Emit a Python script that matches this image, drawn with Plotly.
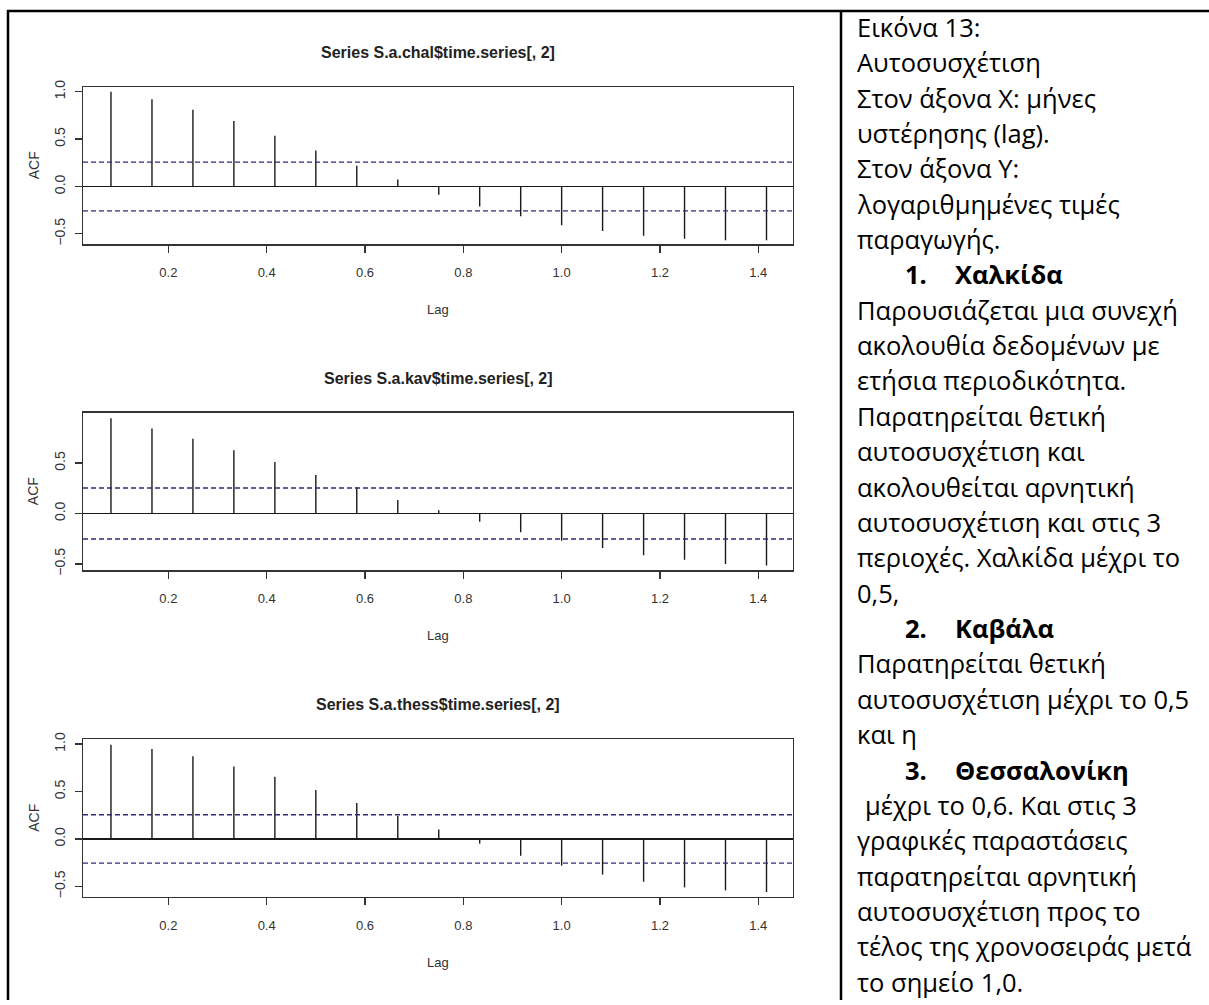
import plotly.graph_objects as go

W, H = 1209, 1005

# ---------------- data ----------------
lags = [0.0833, 0.1667, 0.25, 0.3333, 0.4167, 0.5, 0.5833, 0.6667, 0.75,
        0.8333, 0.9167, 1.0, 1.0833, 1.1667, 1.25, 1.3333, 1.4167]
acf_chal = [1.00, 0.92, 0.81, 0.69, 0.535, 0.38, 0.22, 0.073, -0.087,
            -0.21, -0.315, -0.41, -0.47, -0.52, -0.55, -0.567, -0.567]
acf_kav = [0.944, 0.843, 0.742, 0.627, 0.51, 0.382, 0.261, 0.134, 0.033,
           -0.082, -0.186, -0.27, -0.343, -0.415, -0.458, -0.50, -0.516]
acf_thess = [0.993, 0.948, 0.872, 0.764, 0.656, 0.517, 0.378, 0.243, 0.10,
             -0.049, -0.177, -0.281, -0.375, -0.451, -0.51, -0.542, -0.559]
conf_limits = [0.257, 0.253, 0.255]
series_titles = ["Series S.a.chal$time.series[, 2]",
                 "Series S.a.kav$time.series[, 2]",
                 "Series S.a.thess$time.series[, 2]"]
x_ticks = [0.2, 0.4, 0.6, 0.8, 1.0, 1.2, 1.4]
y_ticks = [-0.5, 0.0, 0.5, 1.0]

text_lines = [
    "Εικόνα 13:",
    "Αυτοσυσχέτιση",
    "Στον άξονα Χ: μήνες",
    "υστέρησης (lag).",
    "Στον άξονα Υ:",
    "λογαριθμημένες τιμές",
    "παραγωγής.",
    ("1.", "Χαλκίδα"),
    "Παρουσιάζεται μια συνεχή",
    "ακολουθία δεδομένων με",
    "ετήσια περιοδικότητα.",
    "Παρατηρείται θετική",
    "αυτοσυσχέτιση και",
    "ακολουθείται αρνητική",
    "αυτοσυσχέτιση και στις 3",
    "περιοχές. Χαλκίδα μέχρι το",
    "0,5,",
    ("2.", "Καβάλα"),
    "Παρατηρείται θετική",
    "αυτοσυσχέτιση μέχρι το 0,5",
    "και η",
    ("3.", "Θεσσαλονίκη"),
    " μέχρι το 0,6. Και στις 3",
    "γραφικές παραστάσεις",
    "παρατηρείται αρνητική",
    "αυτοσυσχέτιση προς το",
    "τέλος της χρονοσειράς μετά",
    "το σημείο 1,0.",
]

# ---------------- layout helpers ----------------
def px(x):
    return x / W

def py(y):
    return 1 - y / H

# plot boxes in pixels (left, top, right, bottom)
boxes = [(83, 81, 793, 240), (83, 410.7, 793, 570), (83, 741, 793, 900.7)]
y_ranges = [[-0.608, 1.049], [-0.562, 0.998], [-0.611, 1.052]]
x_range = [0.0264, 1.4706]
series = [acf_chal, acf_kav, acf_thess]

fig = go.Figure()
regular = "Liberation Sans, Arial"
annotations = []
shapes = []

for i, (vals, clim, box, yr, ttl) in enumerate(zip(series, conf_limits, boxes, y_ranges, series_titles)):
    n = i + 1
    xa = "x" if n == 1 else f"x{n}"
    ya = "y" if n == 1 else f"y{n}"
    sx, sy = [], []
    for l, v in zip(lags, vals):
        sx += [l, l, None]
        sy += [0, v, None]
    fig.add_trace(go.Scatter(x=sx, y=sy, mode="lines", xaxis=xa, yaxis=ya,
                             line=dict(color="#1a1a1a", width=1.4),
                             showlegend=False, hoverinfo="skip"))
    l, t, r, b = box
    axis_common = dict(showgrid=False, showline=True, mirror=True,
                       linecolor="#333333", linewidth=1.4, ticks="outside",
                       ticklen=7, tickwidth=1.2, tickcolor="#333333")
    fig.update_layout(**{
        ("xaxis" if n == 1 else f"xaxis{n}"): dict(
            domain=[px(l), px(r)], range=x_range, anchor=ya,
            tickvals=x_ticks, tickformat=".1f", zeroline=False,
            tickfont=dict(family=regular, size=13, color="#333333"),
            ticklabelstandoff=9, **axis_common),
        ("yaxis" if n == 1 else f"yaxis{n}"): dict(
            domain=[py(b), py(t)], range=yr, anchor=xa,
            tickvals=[v for v in y_ticks if yr[0] <= v <= yr[1]],
            tickformat=".1f", tickangle=-90,
            zeroline=True, zerolinecolor="#1a1a1a", zerolinewidth=1.4,
            tickfont=dict(family=regular, size=14, color="#333333"),
            ticklabelstandoff=4, **axis_common),
    })
    for s in (clim, -clim):
        shapes.append(dict(type="line", xref=f"{xa} domain", yref=ya,
                           x0=0, x1=1, y0=s, y1=s,
                           line=dict(color="#2b2b7a", width=1.4, dash="5px,3px")))
    cx = (l + r) / 2
    annotations.append(dict(text=f"<b>{ttl}</b>", x=px(cx), y=py(t - 35),
                            xref="paper", yref="paper", showarrow=False,
                            xanchor="center", yanchor="middle",
                            font=dict(family=regular, size=16, color="#222222")))
    annotations.append(dict(text="Lag", x=px(437.7), y=py(b + 66.5),
                            xref="paper", yref="paper", showarrow=False,
                            xanchor="center", yanchor="middle",
                            font=dict(family=regular, size=13, color="#333333")))
    annotations.append(dict(text="ACF", x=px(33.7), y=py((t + b) / 2),
                            xref="paper", yref="paper", showarrow=False,
                            xanchor="center", yanchor="middle", textangle=-90,
                            font=dict(family=regular, size=14, color="#333333")))

# right-hand text column
text_font = "Open Sans, Noto Sans, DejaVu Sans"
text_size = 25.5
line_y0, line_dy = 20, 35.8
for k, line in enumerate(text_lines):
    yc = line_y0 + k * line_dy
    if isinstance(line, tuple):
        for txt, xx in zip(line, (903, 953)):
            annotations.append(dict(text=f"<b>{txt}</b>", x=px(xx), y=py(yc),
                                    xref="paper", yref="paper", showarrow=False,
                                    xanchor="left", yanchor="middle",
                                    font=dict(family=text_font, size=text_size, color="#000000")))
    else:
        xx = 855
        txt = line
        if line.startswith(" "):
            xx = 863
            txt = line.strip()
        annotations.append(dict(text=txt, x=px(xx), y=py(yc),
                                xref="paper", yref="paper", showarrow=False,
                                xanchor="left", yanchor="middle",
                                font=dict(family=text_font, size=text_size, color="#000000")))

# table borders
border = dict(color="#000000", width=2.5)
shapes.append(dict(type="line", xref="paper", yref="paper", x0=px(7), x1=1,
                   y0=py(4), y1=py(4), line=border))
shapes.append(dict(type="line", xref="paper", yref="paper", x0=px(8), x1=px(8),
                   y0=py(3), y1=0, line=border))
shapes.append(dict(type="line", xref="paper", yref="paper", x0=px(841), x1=px(841),
                   y0=py(3), y1=0, line=border))

fig.update_layout(width=W, height=H, autosize=False,
                  margin=dict(l=0, r=0, t=0, b=0),
                  paper_bgcolor="white", plot_bgcolor="white",
                  annotations=annotations, shapes=shapes, showlegend=False)

fig.write_html(
    "out.html",
    config={"displayModeBar": False, "staticPlot": True},
    post_script=(
        "document.body.style.margin='0';"
        "document.body.style.overflow='hidden';"
        "var d=document.getElementById('{plot_id}');"
        "d.style.position='fixed';d.style.top='0px';d.style.left='0px';"
    ),
)
